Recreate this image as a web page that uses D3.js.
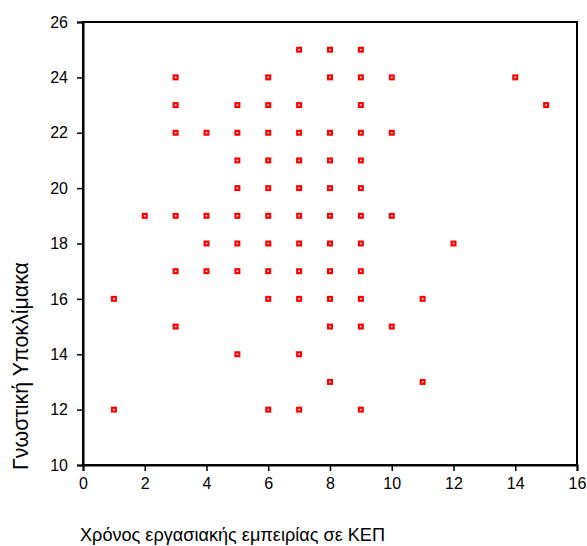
<!DOCTYPE html>
<html><head><meta charset="utf-8">
<script src="https://cdn.jsdelivr.net/npm/d3@7"></script>
<style>body{margin:0;background:#fff}svg{display:block}</style>
</head><body>
<script>
const xTicks = [0,2,4,6,8,10,12,14,16];
const yTicks = [10,12,14,16,18,20,22,24,26];
const experience = [7,8,9, 3,6,8,9,10,14, 3,5,6,7,9,15, 3,4,5,6,7,8,9,10, 5,6,7,8,9, 5,6,7,8,9, 2,3,4,5,6,7,8,9,10, 4,5,6,7,8,9,12, 3,4,5,6,7,8,9, 1,6,7,8,9,11, 3,8,9,10, 5,7, 8,11, 1,6,7,9];
const score =      [25,25,25, 24,24,24,24,24,24, 23,23,23,23,23,23, 22,22,22,22,22,22,22,22, 21,21,21,21,21, 20,20,20,20,20, 19,19,19,19,19,19,19,19,19, 18,18,18,18,18,18,18, 17,17,17,17,17,17,17, 16,16,16,16,16,16, 15,15,15,15, 14,14, 13,13, 12,12,12,12];
const xTitle = "Χρόνος εργασιακής εμπειρίας σε ΚΕΠ";
const yTitle = "Γνωστική Υποκλίμακα";

const W = 587, H = 546;
const m = {left: 83, right: 10, top: 22, bottom: 81};
const FF = "'Liberation Sans', Arial, sans-serif";
const svg = d3.select("body").append("svg").attr("width", W).attr("height", H)
  .style("font-family", FF);
const x = d3.scaleLinear().domain([0,16]).range([m.left, W - m.right]);
const y = d3.scaleLinear().domain([10,26]).range([H - m.bottom, m.top]);

// frame
svg.append("rect").attr("x", x(0)).attr("y", y(26)).attr("width", x(16)-x(0)).attr("height", y(10)-y(26))
  .attr("fill", "none").attr("stroke", "#000").attr("stroke-width", 2);

const xa = svg.append("g").attr("transform", `translate(0,${y(10)})`)
  .call(d3.axisBottom(x).tickValues(xTicks).tickSize(6).tickPadding(7).tickFormat(d3.format("d")));
const ya = svg.append("g").attr("transform", `translate(${x(0)},0)`)
  .call(d3.axisLeft(y).tickValues(yTicks).tickSize(6).tickPadding(9).tickFormat(d3.format("d")));
[xa, ya].forEach(a => {
  a.select(".domain").attr("stroke", "#000").attr("stroke-width", 2);
  a.selectAll(".tick line").attr("stroke", "#000").attr("stroke-width", 1.5);
  a.selectAll("text").attr("font-size", 16).attr("fill", "#000").style("font-family", FF);
});

const pts = experience.map((d, i) => ({x: d, y: score[i]}));
svg.append("g").selectAll("rect").data(pts).join("rect")
  .attr("x", d => x(d.x) - 1.9).attr("y", d => y(d.y) - 1.9)
  .attr("width", 3.8).attr("height", 3.8)
  .attr("fill", "#fff").attr("stroke", "#ff0000").attr("stroke-width", 2.2);

function fit(t, target) {
  const len = t.node().getComputedTextLength();
  const fs = +t.attr("font-size");
  t.attr("font-size", fs * target / len);
}
const xt = svg.append("text").attr("x", 232.5).attr("y", 541).attr("text-anchor", "middle")
  .attr("font-size", 18).attr("fill", "#000").text(xTitle);
fit(xt, 305);
const yt = svg.append("text").attr("transform", "translate(28,366) rotate(-90)").attr("text-anchor", "middle")
  .attr("font-size", 18).attr("fill", "#000").text(yTitle);
fit(yt, 208);
</script>
</body></html>
